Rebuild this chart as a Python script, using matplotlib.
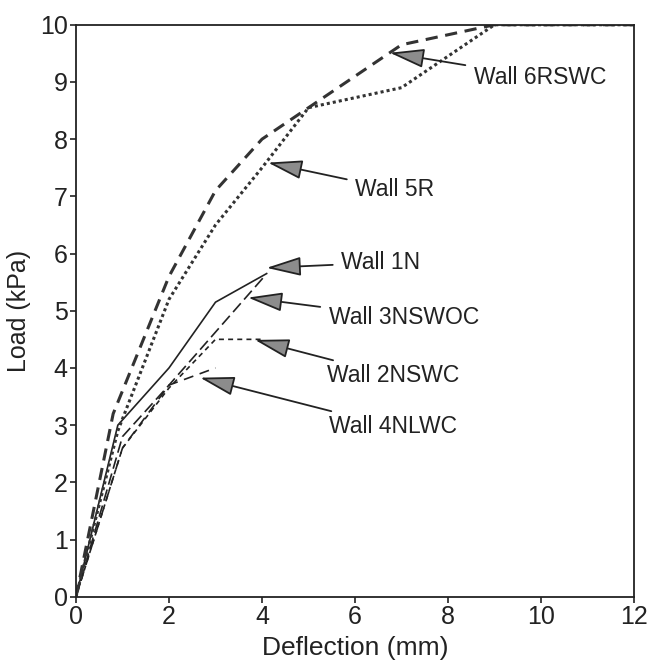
import numpy as np
import matplotlib
matplotlib.use('Agg')
import matplotlib.pyplot as plt

plt.rcParams['font.family'] = ['Liberation Sans', 'DejaVu Sans']

# load-deflection curves
x_1n = [0, 0.9, 2, 3, 4.1]
y_1n = [0, 3.0, 4.0, 5.15, 5.65]

x_2nswc = [0, 1, 2, 3, 4]
y_2nswc = [0, 2.6, 3.65, 4.5, 4.5]

x_3nswoc = [0, 1, 2, 4.05]
y_3nswoc = [0, 2.8, 3.7, 5.6]

x_4nlwc = [0, 1, 2, 3]
y_4nlwc = [0, 2.6, 3.7, 4.0]

x_5r = [0, 0.9, 2, 3, 4, 5, 7, 9, 12]
y_5r = [0, 2.9, 5.2, 6.5, 7.5, 8.55, 8.9, 10, 10]

x_6rswc = [0, 0.8, 2, 3, 4, 7, 9, 12]
y_6rswc = [0, 3.2, 5.6, 7.1, 8.0, 9.65, 10, 10]

labels = ['Wall 6RSWC', 'Wall 5R', 'Wall 1N', 'Wall 3NSWOC', 'Wall 2NSWC', 'Wall 4NLWC']
label_xy = [(8.55, 9.08), (6.0, 7.12), (5.7, 5.84), (5.43, 4.88), (5.4, 3.86), (5.43, 2.97)]
arrow_tips = [(6.75, 9.51), (4.13, 7.59), (4.1, 5.75), (3.7, 5.23), (3.85, 4.49), (2.67, 3.83)]

fig = plt.figure(figsize=(6.55, 6.69), dpi=100)
ax = fig.add_axes([0.116, 0.108, 0.852, 0.855])

c = '#222222'
ax.plot(x_1n, y_1n, color=c, lw=1.2, linestyle='-')
ax.plot(x_2nswc, y_2nswc, color=c, lw=1.2, linestyle=(0, (3, 2.5)))
ax.plot(x_3nswoc, y_3nswoc, color=c, lw=1.2, linestyle=(0, (7, 3)))
ax.plot(x_4nlwc, y_4nlwc, color=c, lw=1.2, linestyle=(0, (6, 4)))
ax.plot(x_5r, y_5r, color='#333333', lw=2.2, linestyle=(0, (1, 1)))
ax.plot(x_6rswc, y_6rswc, color='#333333', lw=2.2, linestyle=(0, (4, 2.5)))

for lab, (tx, ty), (ax_, ay) in zip(labels, label_xy, arrow_tips):
    ax.annotate(lab, xy=(ax_, ay), xytext=(tx, ty), fontsize=16.5, va='center', ha='left',
                color='#222222',
                arrowprops=dict(arrowstyle='-|>,head_length=1.3,head_width=0.36',
                                fc='#8c8c8c', ec='#222222', lw=1.3,
                                shrinkA=4, shrinkB=0))

ax.set_xlim(0, 12)
ax.set_ylim(0, 10)
ax.set_xticks(np.arange(0, 13, 2))
ax.set_yticks(np.arange(0, 11, 1))
ax.tick_params(direction='out', length=4, width=1.2, labelsize=18, colors='#222222', pad=2)
for s in ax.spines.values():
    s.set_linewidth(1.3)
    s.set_color('#222222')
ax.set_xlabel('Deflection (mm)', fontsize=19, color='#222222', labelpad=5)
ax.set_ylabel('Load (kPa)', fontsize=18, color='#222222', labelpad=6)

fig.savefig('out.png', dpi=100)
